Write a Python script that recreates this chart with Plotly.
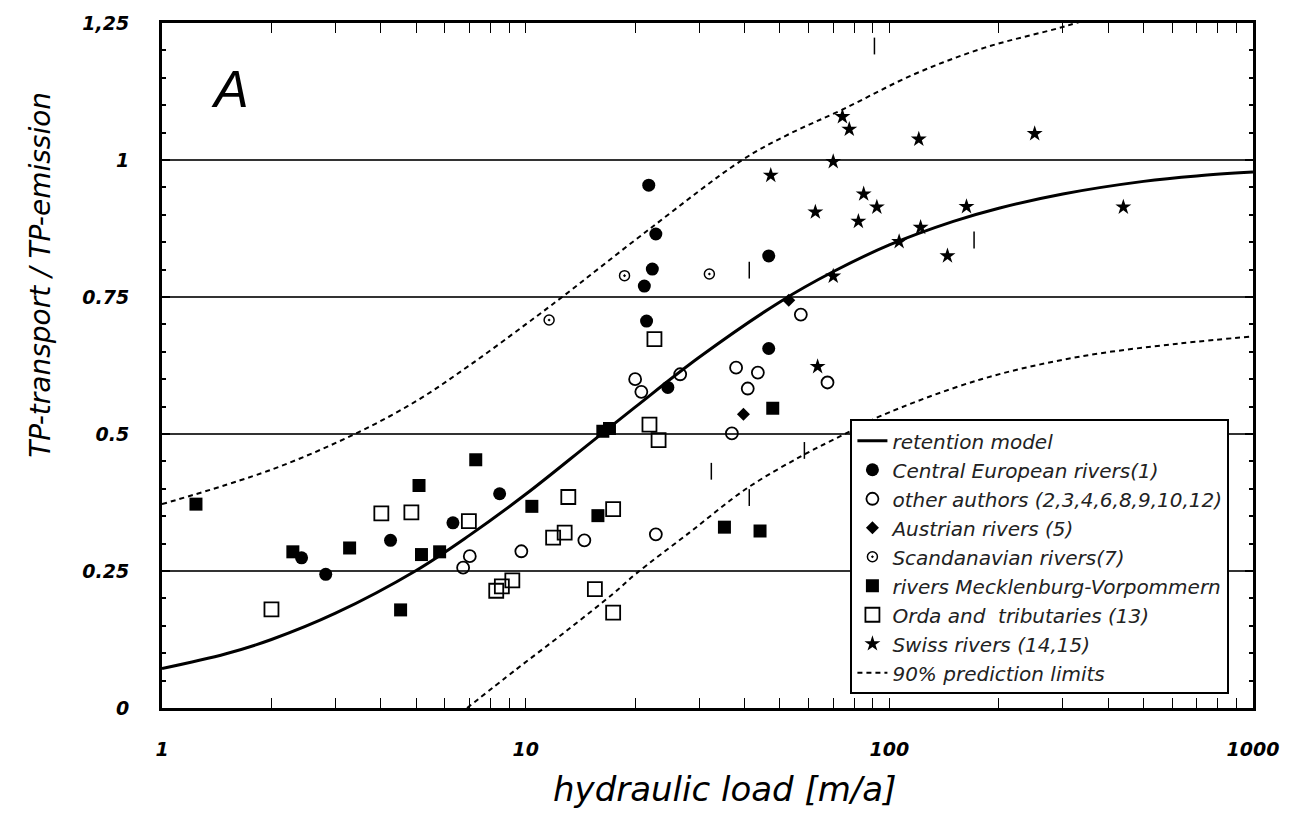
import plotly.graph_objects as go

# ---------------- data ----------------
model_x = [1, 1.5, 2, 3, 5, 7, 10, 15, 20, 30, 50, 70, 100, 150, 200, 300, 500, 700, 1000]
model_y = [0.072, 0.099, 0.125, 0.173, 0.251, 0.315, 0.390, 0.483, 0.549, 0.640, 0.741, 0.796, 0.845,
           0.888, 0.912, 0.938, 0.961, 0.971, 0.978]

upper_x = [1, 2, 3.39, 5, 7, 10, 12.6, 21.9, 39.4, 52.9, 74.3, 116.6, 183, 308, 500]
upper_y = [0.372, 0.435, 0.50, 0.56, 0.625, 0.70, 0.75, 0.874, 1.0, 1.047, 1.092, 1.156, 1.205, 1.245, 1.29]

lower_x = [6.9, 9.4, 12.9, 17.5, 20.1, 28.2, 40.4, 57.8, 76, 94, 177, 333, 626, 1000]
lower_y = [0.0, 0.07, 0.14, 0.21, 0.245, 0.32, 0.40, 0.461, 0.501, 0.532, 0.599, 0.641, 0.665, 0.678]

central_x = [2.42, 2.82, 4.25, 6.31, 8.48, 21.8, 22.8, 22.3, 21.2, 21.5, 46.6, 46.6, 24.6]
central_y = [0.274, 0.244, 0.306, 0.338, 0.391, 0.954, 0.865, 0.801, 0.770, 0.706, 0.825, 0.656, 0.585]

other_x = [7.02, 6.73, 9.73, 14.5, 57.1, 37.9, 43.5, 40.8, 67.6, 20.0, 20.8, 26.6, 36.9, 22.8]
other_y = [0.277, 0.256, 0.286, 0.306, 0.718, 0.621, 0.612, 0.583, 0.594, 0.600, 0.577, 0.609, 0.501, 0.317]

austrian_x = [39.7, 52.9]
austrian_y = [0.536, 0.744]

scand_x = [18.7, 32.0, 11.6]
scand_y = [0.789, 0.792, 0.708]

meck_x = [1.24, 2.29, 3.28, 5.09, 7.29, 4.53, 5.17, 5.80, 10.4, 16.3, 17.0, 15.8, 35.2, 44.1, 47.8]
meck_y = [0.372, 0.285, 0.292, 0.406, 0.453, 0.179, 0.280, 0.285, 0.368, 0.505, 0.510, 0.351, 0.330, 0.323, 0.547]

orda_x = [2.0, 4.01, 4.85, 6.98, 8.3, 8.6, 9.19, 13.1, 11.9, 12.8, 15.5, 17.4, 17.4, 22.6, 21.9, 23.2]
orda_y = [0.180, 0.355, 0.357, 0.341, 0.214, 0.222, 0.233, 0.385, 0.311, 0.320, 0.217, 0.174, 0.363, 0.673, 0.517, 0.489]

swiss_x = [47.2, 70.1, 77.6, 74.3, 120.5, 251, 62.6, 85.0, 92.4, 82.2, 163, 121.9, 106.4, 144.5, 440, 70.1, 63.5]
swiss_y = [0.972, 0.997, 1.056, 1.079, 1.038, 1.048, 0.905, 0.938, 0.914, 0.888, 0.915, 0.877, 0.851, 0.825, 0.914, 0.788, 0.623]

marks_x = [91, 171, 41.2, 32.4, 58.4, 41.2]
marks_y = [1.208, 0.854, 0.799, 0.432, 0.470, 0.384]

y_tickvals = [0, 0.25, 0.5, 0.75, 1, 1.25]
y_ticktext = ["0", "0.25", "0.5", "0.75", "1", "1,25"]
# x ticks: every 1..9 per decade, labels only on decades
x_tickvals = [m * d for d in (1, 10, 100) for m in range(1, 10)] + [1000]
x_ticktext = [(str(v) if m == 1 else "") for v, m in
              [(m * d, m) for d in (1, 10, 100) for m in range(1, 10)]] + ["1000"]

FONT = "DejaVu Sans"
SPL = dict(shape="spline", smoothing=1.0)

fig = go.Figure()

fig.add_trace(go.Scatter(x=model_x, y=model_y, mode="lines", name="retention model",
                         line=dict(color="black", width=3, **SPL)))
fig.add_trace(go.Scatter(x=central_x, y=central_y, mode="markers", name="Central European rivers(1)",
                         marker=dict(symbol="circle", size=13, color="black")))
fig.add_trace(go.Scatter(x=other_x, y=other_y, mode="markers", name="other authors (2,3,4,6,8,9,10,12)",
                         marker=dict(symbol="circle-open", size=12, color="black", line=dict(width=1.8))))
fig.add_trace(go.Scatter(x=austrian_x, y=austrian_y, mode="markers", name="Austrian rivers (5)",
                         marker=dict(symbol="diamond", size=10, color="black")))
fig.add_trace(go.Scatter(x=scand_x, y=scand_y, mode="markers", name="Scandanavian rivers(7)",
                         marker=dict(symbol="circle-open-dot", size=10, color="black", line=dict(width=1.5))))
fig.add_trace(go.Scatter(x=meck_x, y=meck_y, mode="markers", name="rivers Mecklenburg-Vorpommern",
                         marker=dict(symbol="square", size=13, color="black")))
fig.add_trace(go.Scatter(x=orda_x, y=orda_y, mode="markers", name="Orda and  tributaries (13)",
                         marker=dict(symbol="square-open", size=14, color="black", line=dict(width=1.8))))
fig.add_trace(go.Scatter(x=swiss_x, y=swiss_y, mode="markers", name="Swiss rivers (14,15)",
                         marker=dict(symbol="star", size=12, color="black")))
fig.add_trace(go.Scatter(x=upper_x, y=upper_y, mode="lines", name="90% prediction limits",
                         legendgroup="pl",
                         line=dict(color="black", width=2, dash="5px,4px", **SPL)))
fig.add_trace(go.Scatter(x=lower_x, y=lower_y, mode="lines", name="90% prediction limits",
                         legendgroup="pl", showlegend=False,
                         line=dict(color="black", width=2, dash="5px,4px", **SPL)))
fig.add_trace(go.Scatter(x=marks_x, y=marks_y, mode="markers", showlegend=False, hoverinfo="skip",
                         marker=dict(symbol="line-ns", size=12, color="black", line=dict(width=1.5, color="black"))))

fig.add_annotation(x=0.062, y=0.903, xref="paper", yref="paper", text="A", showarrow=False,
                   xanchor="center", yanchor="middle",
                   font=dict(family="Liberation Sans", size=52, color="black", style="italic"))

# axis titles as annotations (positioned like the reference)
fig.add_annotation(x=(724 - 162) / 1091, y=-0.118, xref="paper", yref="paper",
                   text="hydraulic load [m/a]", showarrow=False, xanchor="center", yanchor="middle",
                   font=dict(family=FONT, size=34, color="black", style="italic"))
fig.add_annotation(x=-0.111, y=(708 - 273) / 688, xref="paper", yref="paper",
                   text="TP-transport / TP-emission", showarrow=False, textangle=-90,
                   xanchor="center", yanchor="middle",
                   font=dict(family=FONT, size=28, color="black", style="italic"))

TICKFONT = dict(family=FONT, size=19, color="black", style="italic", weight=700)

fig.update_xaxes(type="log", range=[0, 3], tickmode="array", tickvals=x_tickvals, ticktext=x_ticktext,
                 showline=True, linewidth=3, linecolor="black", mirror="ticks",
                 ticks="inside", ticklen=10, tickwidth=1.2, tickcolor="black",
                 showgrid=False, zeroline=False, ticklabelstandoff=22,
                 tickfont=TICKFONT)
fig.update_yaxes(range=[0, 1.25], tickvals=y_tickvals, ticktext=y_ticktext,
                 showline=True, linewidth=3, linecolor="black", mirror="ticks",
                 ticks="inside", ticklen=8, tickwidth=1.5, tickcolor="black",
                 minor=dict(ticks="inside", ticklen=4, dtick=0.05, tickcolor="black", showgrid=False),
                 showgrid=True, gridcolor="#333333", gridwidth=1.6, zeroline=False,
                 ticklabelstandoff=26,
                 tickfont=TICKFONT)

fig.update_layout(
    width=1293, height=822,
    margin=dict(l=162, r=40, t=20, b=114),
    paper_bgcolor="white", plot_bgcolor="white",
    showlegend=True,
    legend=dict(x=0.631, y=0.4215, xanchor="left", yanchor="top",
                bgcolor="white", bordercolor="black", borderwidth=2,
                itemwidth=30, tracegroupgap=0, entrywidth=355, entrywidthmode="pixels",
                font=dict(family=FONT, size=20, color="#222222", style="italic")),
)

fig.write_html("out.html")
